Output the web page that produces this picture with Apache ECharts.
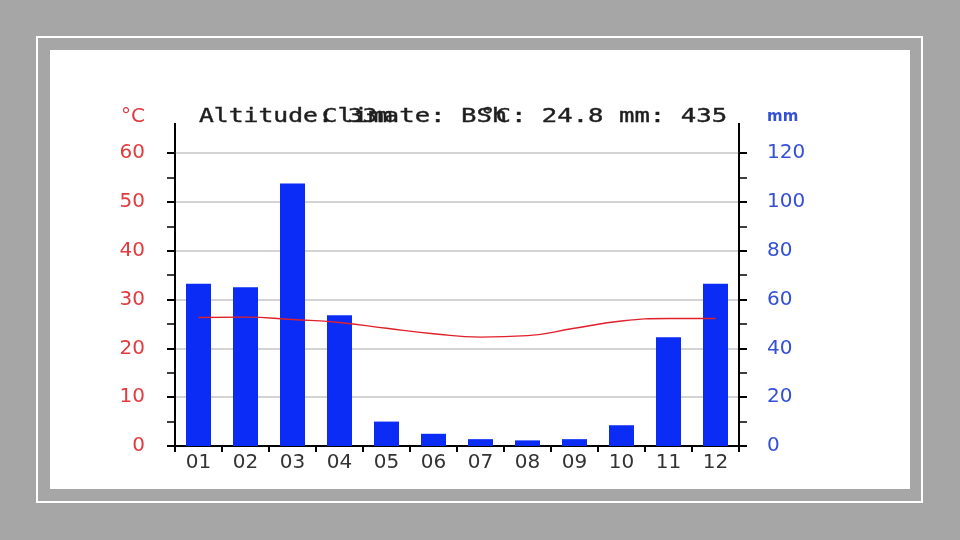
<!DOCTYPE html>
<html>
<head>
<meta charset="utf-8">
<script src="https://cdn.jsdelivr.net/npm/echarts@6/dist/echarts.min.js"></script>
<style>html,body{margin:0;padding:0;background:#a6a6a6;}#c{width:960px;height:540px;}</style>
</head>
<body>
<div id="c"></div>
<script>
const months = ['01','02','03','04','05','06','07','08','09','10','11','12'];
const precipMM = [66.5, 65, 107.5, 53.5, 10, 5, 2.8, 2.3, 2.8, 8.5, 44.5, 66.5];
const tempC = [26.3, 26.4, 25.9, 25.3, 24.1, 23.0, 22.3, 22.6, 24.1, 25.6, 26.1, 26.1];
const tempTicks = [0, 10, 20, 30, 40, 50, 60];
const precipTicks = [0, 20, 40, 60, 80, 100, 120];
const titleParts = ['Altitude: 33m', 'Climate: BSh', '°C: 24.8 mm: 435'];

const chart = echarts.init(document.getElementById('c'), null, {renderer: 'canvas'});
const monoFont = 'DejaVu Sans Mono';
const sansFont = 'DejaVu Sans';
const titleStyle = (txt) => ({fill: '#1e1e1e', text: txt, font: '19px "' + monoFont + '"', textVerticalAlign: 'middle', stroke: '#1e1e1e', lineWidth: 0.4});

chart.setOption({
  backgroundColor: '#a6a6a6',
  animation: false,
  graphic: [
    {type: 'rect', z: -20, shape: {x: 37, y: 37, width: 885, height: 465}, style: {fill: 'none', stroke: '#ffffff', lineWidth: 2}},
    {type: 'rect', z: -20, shape: {x: 50, y: 50, width: 860, height: 439}, style: {fill: '#ffffff'}},
    {type: 'line', shape: {x1: 175, y1: 123, x2: 175, y2: 153}, style: {stroke: '#000', lineWidth: 2}},
    {type: 'line', shape: {x1: 739, y1: 123, x2: 739, y2: 153}, style: {stroke: '#000', lineWidth: 2}},
    {type: 'text', x: 199, y: 117, scaleX: 1.3, style: titleStyle(titleParts[0])},
    {type: 'text', x: 322, y: 117, scaleX: 1.35, style: titleStyle(titleParts[1])},
    {type: 'text', x: 480, y: 117, scaleX: 1.35, style: titleStyle(titleParts[2])}
  ],
  grid: {left: 175, right: 221, top: 153, bottom: 94, containLabel: false},
  xAxis: {
    type: 'category',
    data: months,
    boundaryGap: true,
    axisLine: {lineStyle: {color: '#000', width: 2}},
    axisTick: {show: true, length: 6, alignWithLabel: false, lineStyle: {color: '#000', width: 2}},
    axisLabel: {color: '#333', fontFamily: sansFont, fontSize: 20, margin: 7}
  },
  yAxis: [
    {
      type: 'value', min: tempTicks[0], max: tempTicks[tempTicks.length - 1], interval: 10,
      position: 'left',
      name: '°C', nameLocation: 'end', nameGap: 36,
      nameTextStyle: {color: '#e23a3f', fontFamily: sansFont, fontSize: 20, align: 'right', verticalAlign: 'middle', padding: [0, 30, 0, 0]},
      axisLine: {show: true, lineStyle: {color: '#000', width: 2}},
      axisTick: {show: true, length: 8, lineStyle: {color: '#000', width: 2}},
      minorTick: {show: true, splitNumber: 2, length: 8, lineStyle: {color: '#000', width: 1.5}},
      splitLine: {show: true, lineStyle: {color: '#c4c4c4', width: 1.5}},
      axisLabel: {color: '#e23a3f', fontFamily: sansFont, fontSize: 20, margin: 30}
    },
    {
      type: 'value', min: precipTicks[0], max: precipTicks[precipTicks.length - 1], interval: 20,
      position: 'right',
      name: 'mm', nameLocation: 'end', nameGap: 36,
      nameTextStyle: {color: '#3350d6', fontFamily: sansFont, fontSize: 15, fontWeight: 'bold', align: 'left', verticalAlign: 'middle', padding: [0, 0, 0, 28]},
      axisLine: {show: true, lineStyle: {color: '#000', width: 2}},
      axisTick: {show: true, length: 8, lineStyle: {color: '#000', width: 2}},
      minorTick: {show: true, splitNumber: 2, length: 8, lineStyle: {color: '#000', width: 1.5}},
      splitLine: {show: false},
      axisLabel: {color: '#3350d6', fontFamily: sansFont, fontSize: 20, margin: 28}
    }
  ],
  series: [
    {
      name: 'mm', type: 'bar', yAxisIndex: 1, data: precipMM, barWidth: 25,
      itemStyle: {color: '#0a2cf5'}, z: 2
    },
    {
      name: '°C', type: 'line', yAxisIndex: 0, data: tempC, smooth: true,
      symbol: 'none', lineStyle: {color: '#e0202a', width: 1.4}, z: 3
    }
  ]
});
</script>
</body>
</html>
